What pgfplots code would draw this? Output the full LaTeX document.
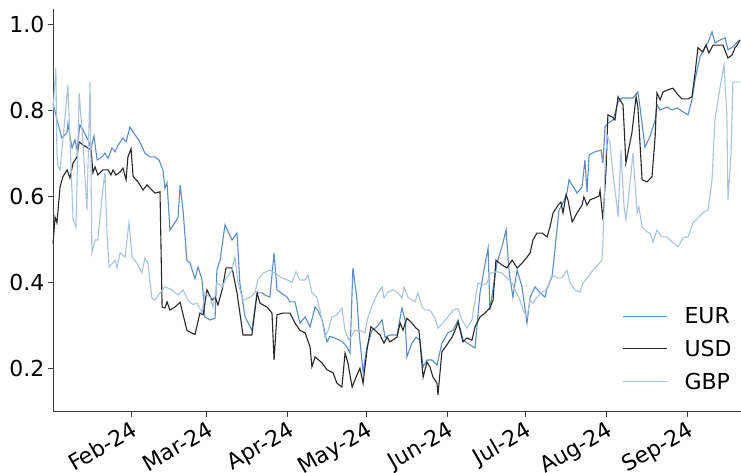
\documentclass[border=0pt]{standalone}
\usepackage{pgfplots}
\pgfplotsset{compat=1.18}
\usepackage{fontspec}
\setmainfont{DejaVu Sans}
\definecolor{eurc}{RGB}{91,142,196}
\definecolor{usdc}{RGB}{40,40,40}
\definecolor{gbpc}{RGB}{169,195,223}
\definecolor{spine}{RGB}{60,60,60}
\begin{document}
\begin{tikzpicture}
\begin{axis}[
  at={(0pt,0pt)}, anchor=south west,
  scale only axis,
  width=688pt, height=403pt,
  xmin=1, xmax=264.6,
  ymin=0.1, ymax=1.037,
  axis x line*=bottom, axis y line*=left,
  axis line style={spine, line width=1pt},
  tick style={spine, line width=1pt},
  tick align=outside,
  major tick length=5pt,
  xtick={31,60,91,121,152,182,213,244},
  xticklabels={Feb-24,Mar-24,Apr-24,May-24,Jun-24,Jul-24,Aug-24,Sep-24},
  ytick={0.2,0.4,0.6,0.8,1.0},
  yticklabel style={/pgf/number format/fixed, /pgf/number format/precision=1, /pgf/number format/fixed zerofill},
  /pgf/number format/assume math mode=true,
  tick label style={font=\fontsize{22}{26}\selectfont, text=black},
  xticklabel style={rotate=30, anchor=north east, inner sep=2pt},
  legend style={draw=none, fill=none, font=\fontsize{22}{26}\selectfont,
    at={(rel axis cs:0.823,0.27)}, anchor=north west, row sep=11pt,
    nodes={inner sep=2pt},
    /tikz/every odd column/.append style={column sep=15pt}},
  legend cell align=left,
  legend image code/.code={\draw[#1] (0pt,0pt) -- (44pt,0pt);},
  clip=false,
]
\addplot[eurc, line width=1.1pt] coordinates {
(1.0,0.819)(2.5,0.78)(4.4,0.737)(6.4,0.75)(6.7,0.77)(8.3,0.714)(9.4,0.733)(10.2,0.71)(11.3,0.767)(12.5,0.756)(14.4,0.733)(15.6,0.714)(16.7,0.742)(17.9,0.686)(19.8,0.693)(20.9,0.702)(22.1,0.69)(23.6,0.714)(24.8,0.705)(25.9,0.72)(27.8,0.737)(29.0,0.728)(30.5,0.763)(31.7,0.751)(34.3,0.728)(36.2,0.702)(38.2,0.693)(40.1,0.693)(41.6,0.686)(43.1,0.663)(43.9,0.62)(44.7,0.633)(45.8,0.523)(47.7,0.54)(48.9,0.553)(49.7,0.628)(50.8,0.57)(52.3,0.453)(53.5,0.446)(55.4,0.41)(56.6,0.437)(58.1,0.407)(59.2,0.321)(61.2,0.314)(63.1,0.318)(63.8,0.43)(65.0,0.453)(66.9,0.535)(69.6,0.5)(71.5,0.516)(72.6,0.40)(74.6,0.321)(77.2,0.29)(79.2,0.377)(81.1,0.377)(82.2,0.372)(84.1,0.367)(85.7,0.47)(86.8,0.384)(90.7,0.367)(91.8,0.356)(93.7,0.356)(95.6,0.307)(97.6,0.321)(99.5,0.298)(101.4,0.344)(102.5,0.337)(104.1,0.314)(106.0,0.263)(107.1,0.276)(109.8,0.27)(112.1,0.262)(113.6,0.251)(114.8,0.237)(115.9,0.435)(117.5,0.36)(118.2,0.29)(119.8,0.193)(121.3,0.251)(123.2,0.29)(125.1,0.298)(127.1,0.314)(128.2,0.274)(130.1,0.279)(132.8,0.279)(134.7,0.342)(135.9,0.314)(136.6,0.228)(138.5,0.26)(140.1,0.274)(141.6,0.267)(142.8,0.205)(144.3,0.221)(146.2,0.221)(148.1,0.209)(150.0,0.26)(152.3,0.284)(154.3,0.29)(156.2,0.314)(158.1,0.267)(160.8,0.256)(162.7,0.249)(164.6,0.377)(166.1,0.43)(167.7,0.481)(168.4,0.337)(171.1,0.446)(173.0,0.484)(174.6,0.523)(175.7,0.43)(177.2,0.367)(178.8,0.43)(180.7,0.391)(182.6,0.307)(183.8,0.367)(185.7,0.391)(187.6,0.377)(189.5,0.367)(190.3,0.388)(192.2,0.414)(193.3,0.477)(194.9,0.57)(196.4,0.586)(197.9,0.609)(198.7,0.64)(199.9,0.628)(201.8,0.609)(203.7,0.623)(204.8,0.686)(205.6,0.612)(206.4,0.698)(208.7,0.705)(211.0,0.709)(211.7,0.679)(212.5,0.763)(213.6,0.772)(215.6,0.779)(217.5,0.821)(219.0,0.83)(220.9,0.83)(223.2,0.83)(225.1,0.844)(225.9,0.809)(227.8,0.716)(229.7,0.74)(231.7,0.779)(232.4,0.814)(233.6,0.802)(236.2,0.809)(238.2,0.802)(240.1,0.807)(242.4,0.798)(244.3,0.791)(245.8,0.826)(247.0,0.872)(248.9,0.926)(250.8,0.949)(252.0,0.96)(253.5,0.984)(254.6,0.958)(256.6,0.965)(258.5,0.97)(259.6,0.942)(261.5,0.949)(263.1,0.96)(264.2,0.965)
};
\addlegendentry{EUR}
\addplot[usdc, line width=1.1pt] coordinates {
(1.0,0.49)(1.8,0.553)(2.5,0.54)(3.7,0.623)(4.8,0.647)(6.4,0.663)(7.5,0.644)(8.7,0.679)(10.2,0.693)(11.0,0.728)(12.5,0.721)(14.4,0.714)(15.6,0.709)(16.3,0.656)(17.1,0.67)(18.2,0.651)(20.2,0.663)(22.1,0.663)(23.2,0.651)(24.0,0.663)(25.1,0.651)(26.7,0.658)(27.8,0.667)(29.0,0.64)(29.7,0.693)(30.9,0.712)(31.7,0.647)(33.6,0.635)(35.5,0.616)(37.0,0.628)(38.9,0.616)(40.1,0.609)(42.0,0.612)(42.8,0.344)(43.9,0.342)(44.7,0.356)(45.8,0.337)(47.7,0.344)(49.7,0.355)(52.3,0.29)(53.5,0.286)(55.4,0.28)(57.3,0.33)(58.5,0.326)(60.0,0.384)(61.9,0.36)(63.1,0.367)(64.2,0.349)(65.8,0.384)(67.3,0.435)(69.6,0.435)(71.5,0.377)(73.8,0.279)(77.2,0.279)(79.2,0.377)(80.3,0.353)(83.0,0.344)(84.9,0.33)(85.7,0.221)(86.8,0.326)(89.1,0.33)(91.8,0.33)(93.7,0.307)(95.6,0.29)(97.6,0.284)(99.5,0.251)(100.2,0.205)(101.4,0.228)(104.1,0.214)(106.0,0.198)(108.3,0.191)(109.8,0.167)(111.7,0.158)(112.9,0.237)(114.0,0.214)(115.6,0.158)(117.1,0.181)(118.6,0.202)(119.8,0.167)(121.3,0.244)(122.8,0.298)(124.4,0.29)(126.3,0.279)(127.8,0.26)(129.0,0.274)(130.1,0.263)(132.8,0.274)(134.0,0.307)(135.1,0.29)(136.6,0.318)(138.5,0.307)(140.1,0.295)(141.2,0.29)(142.8,0.181)(144.3,0.216)(145.4,0.205)(146.6,0.181)(148.1,0.167)(148.5,0.14)(150.0,0.24)(151.9,0.256)(153.9,0.274)(155.4,0.295)(156.2,0.309)(158.1,0.263)(159.6,0.272)(161.5,0.267)(162.7,0.298)(164.6,0.321)(166.5,0.33)(168.4,0.342)(169.6,0.36)(170.7,0.453)(173.0,0.442)(174.9,0.435)(176.9,0.453)(178.8,0.435)(180.7,0.446)(182.6,0.46)(183.8,0.47)(184.9,0.5)(186.4,0.516)(188.4,0.516)(190.3,0.507)(191.4,0.53)(192.6,0.563)(194.5,0.581)(195.6,0.588)(196.4,0.563)(197.6,0.605)(198.3,0.593)(199.9,0.542)(201.8,0.563)(203.7,0.581)(204.4,0.6)(205.6,0.581)(206.7,0.593)(208.7,0.598)(210.2,0.602)(210.6,0.615)(211.7,0.547)(212.9,0.663)(213.6,0.791)(215.2,0.786)(216.3,0.779)(217.5,0.833)(219.4,0.814)(220.5,0.679)(222.8,0.749)(224.4,0.833)(225.1,0.809)(226.7,0.64)(228.6,0.635)(230.5,0.647)(231.7,0.74)(232.4,0.842)(233.6,0.826)(234.7,0.844)(236.6,0.849)(238.5,0.853)(240.5,0.837)(242.0,0.828)(244.3,0.828)(245.8,0.833)(247.0,0.888)(248.1,0.947)(250.0,0.937)(251.2,0.953)(252.3,0.935)(253.9,0.953)(255.8,0.953)(257.7,0.953)(259.6,0.923)(261.2,0.93)(262.3,0.947)(263.1,0.953)(264.2,0.965)
};
\addlegendentry{USD}
\addplot[gbpc, line width=1.1pt] coordinates {
(1.0,0.80)(2.1,0.90)(2.5,0.702)(2.9,0.67)(3.7,0.663)(4.8,0.733)(6.7,0.86)(8.7,0.547)(9.8,0.53)(10.6,0.733)(11.0,0.842)(12.5,0.726)(14.0,0.57)(15.2,0.867)(15.9,0.47)(17.1,0.5)(18.2,0.5)(20.2,0.623)(20.9,0.656)(21.7,0.516)(22.5,0.437)(24.8,0.453)(25.5,0.435)(26.7,0.47)(28.6,0.46)(30.1,0.54)(31.3,0.46)(33.2,0.446)(35.1,0.423)(36.2,0.458)(37.4,0.446)(38.9,0.365)(40.1,0.36)(42.0,0.377)(43.9,0.391)(46.6,0.384)(48.9,0.372)(50.8,0.384)(52.7,0.36)(54.6,0.35)(56.2,0.353)(58.1,0.33)(59.2,0.377)(61.2,0.367)(62.3,0.344)(63.8,0.40)(65.8,0.391)(67.7,0.414)(69.6,0.43)(70.7,0.46)(71.9,0.40)(73.8,0.36)(76.5,0.367)(78.4,0.377)(79.5,0.407)(81.5,0.423)(84.1,0.43)(86.1,0.423)(88.0,0.414)(90.7,0.407)(92.6,0.402)(94.1,0.426)(95.6,0.407)(97.6,0.407)(98.7,0.419)(100.2,0.377)(102.1,0.367)(103.3,0.337)(105.2,0.274)(106.4,0.29)(107.9,0.321)(109.8,0.326)(111.7,0.342)(112.9,0.29)(114.4,0.267)(116.7,0.29)(118.6,0.29)(120.5,0.284)(121.7,0.321)(123.6,0.353)(125.5,0.377)(127.1,0.391)(127.8,0.365)(129.4,0.379)(131.3,0.384)(133.2,0.377)(134.7,0.365)(135.5,0.391)(137.0,0.367)(138.5,0.36)(139.7,0.356)(140.8,0.377)(142.4,0.344)(143.5,0.337)(145.4,0.337)(147.4,0.318)(148.5,0.295)(150.4,0.307)(152.3,0.321)(154.3,0.337)(156.2,0.34)(157.7,0.314)(159.6,0.295)(161.5,0.314)(162.7,0.36)(163.8,0.40)(165.8,0.395)(167.3,0.40)(168.4,0.423)(171.1,0.426)(173.0,0.423)(174.9,0.412)(176.9,0.40)(178.0,0.384)(179.9,0.36)(181.1,0.337)(182.6,0.321)(183.8,0.36)(184.9,0.353)(186.4,0.367)(188.4,0.379)(190.3,0.384)(192.2,0.419)(194.1,0.412)(196.0,0.412)(197.9,0.43)(199.1,0.40)(201.0,0.384)(202.9,0.379)(204.1,0.40)(206.0,0.414)(207.9,0.43)(209.8,0.442)(211.3,0.453)(211.7,0.49)(212.5,0.67)(213.3,0.744)(214.4,0.726)(215.6,0.65)(217.1,0.577)(217.5,0.553)(218.6,0.709)(219.8,0.577)(220.5,0.547)(222.1,0.633)(223.2,0.702)(224.8,0.563)(225.5,0.577)(226.7,0.53)(228.6,0.519)(229.7,0.516)(230.9,0.495)(232.4,0.523)(234.3,0.507)(236.2,0.507)(238.2,0.495)(240.5,0.484)(242.4,0.505)(244.3,0.507)(246.2,0.54)(248.1,0.551)(250.0,0.563)(252.0,0.57)(253.5,0.64)(254.6,0.779)(256.6,0.856)(258.1,0.907)(259.2,0.786)(259.6,0.593)(260.8,0.702)(261.5,0.867)(264.2,0.867)
};
\addlegendentry{GBP}
\end{axis}
\pgfresetboundingbox
\useasboundingbox (-53pt,-61pt) rectangle (688pt,412pt);
\end{tikzpicture}
\end{document}
